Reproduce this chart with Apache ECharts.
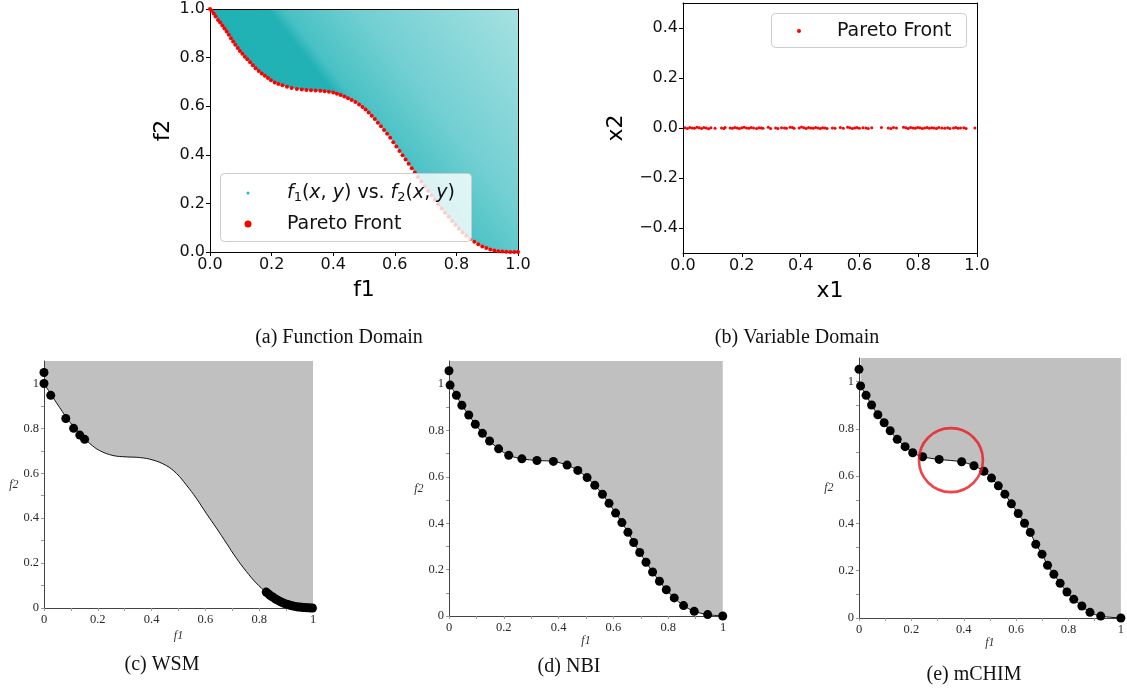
<!DOCTYPE html>
<html><head><meta charset="utf-8">
<script src="https://cdn.jsdelivr.net/npm/echarts@6/dist/echarts.min.js"></script>
<style>html,body{margin:0;padding:0;background:#fff}#c{width:1127px;height:694px}</style>
</head><body><div id="c"></div>
<script>
// ---------- data ----------
const unitTicks = [0, 0.2, 0.4, 0.6, 0.8, 1.0];
const x2Ticks = [-0.4, -0.2, 0, 0.2, 0.4];
const bottomLabelTicks = [0, 0.2, 0.4, 0.6, 0.8, 1];
const bottomMinorTicks = [0, 0.1, 0.2, 0.3, 0.4, 0.5, 0.6, 0.7, 0.8, 0.9, 1.0];

const cloudName = 'f1(x,y) vs. f2(x,y)';
const frontName = 'Pareto Front';

// (a) Pareto front in function domain
const paretoA = [
 [0.000,1.000],[0.005,0.993],[0.012,0.981],[0.018,0.969],[0.026,0.955],[0.033,0.944],[0.040,0.932],
 [0.047,0.920],[0.054,0.907],[0.061,0.894],[0.068,0.880],[0.075,0.866],[0.082,0.853],[0.090,0.839],
 [0.097,0.827],[0.105,0.816],[0.113,0.804],[0.121,0.793],[0.130,0.781],[0.139,0.769],[0.148,0.756],
 [0.158,0.745],[0.168,0.735],[0.178,0.725],[0.188,0.716],[0.198,0.707],[0.210,0.698],[0.222,0.691],
 [0.235,0.686],[0.250,0.680],[0.265,0.675],[0.282,0.671],[0.298,0.669],[0.313,0.667],[0.328,0.666],
 [0.343,0.665],[0.358,0.664],[0.372,0.662],[0.386,0.659],[0.400,0.656],[0.412,0.651],[0.424,0.646],
 [0.436,0.640],[0.448,0.633],[0.460,0.626],[0.472,0.617],[0.484,0.607],[0.495,0.597],[0.505,0.586],
 [0.515,0.574],[0.525,0.561],[0.535,0.547],[0.545,0.532],[0.555,0.517],[0.565,0.502],[0.575,0.487],
 [0.585,0.470],[0.595,0.452],[0.605,0.434],[0.615,0.416],[0.625,0.398],[0.635,0.381],[0.645,0.363],
 [0.655,0.345],[0.665,0.327],[0.675,0.309],[0.686,0.290],[0.697,0.271],[0.708,0.252],[0.719,0.234],
 [0.730,0.215],[0.741,0.197],[0.752,0.179],[0.763,0.162],[0.775,0.145],[0.786,0.128],[0.797,0.112],
 [0.808,0.096],[0.820,0.081],[0.832,0.067],[0.845,0.054],[0.858,0.042],[0.871,0.032],[0.884,0.023],
 [0.897,0.016],[0.910,0.010],[0.923,0.006],[0.936,0.003],[0.949,0.002],[0.962,0.001],[0.975,0.000],
 [0.988,0.000],[1.000,0.000]
];

// (b) Pareto set in variable domain
const paretoB = [
 [0.007,0.001],[0.015,-0.002],[0.023,0.002],[0.031,0.000],[0.039,-0.001],[0.047,0.003],[0.055,0.001],
 [0.063,-0.002],[0.071,0.002],[0.079,0.000],[0.087,-0.003],[0.095,0.001],[0.109,-0.001],
 [0.131,0.000],[0.139,-0.002],[0.143,0.002],
 [0.160,0.000],[0.168,-0.001],[0.176,0.002],[0.184,0.000],[0.192,-0.002],[0.200,0.001],[0.208,0.003],
 [0.216,0.000],[0.224,-0.001],[0.232,0.002],[0.240,0.000],[0.250,-0.002],[0.258,0.001],[0.266,0.000],
 [0.272,-0.001],[0.290,0.003],[0.298,-0.002],
 [0.315,0.000],[0.323,-0.002],[0.335,0.001],[0.345,0.000],[0.352,-0.001],[0.364,0.003],[0.372,0.002],
 [0.378,-0.001],[0.395,0.000],[0.403,0.004],[0.411,0.001],[0.419,-0.002],[0.427,0.002],[0.435,0.000],
 [0.443,-0.001],[0.451,0.002],[0.459,0.000],[0.467,-0.002],[0.475,0.001],[0.483,0.000],[0.490,-0.002],
 [0.508,0.000],[0.517,-0.001],[0.535,0.002],[0.545,-0.001],
 [0.560,0.003],[0.568,0.001],[0.576,-0.002],[0.584,0.000],[0.592,0.002],[0.600,-0.001],[0.612,0.001],
 [0.622,0.000],[0.630,-0.002],[0.642,0.001],[0.675,0.002],
 [0.698,0.000],[0.707,-0.002],[0.716,0.002],[0.726,0.000],
 [0.750,0.003],[0.758,0.001],[0.766,-0.002],[0.774,0.002],[0.782,0.000],[0.790,-0.001],[0.798,0.002],
 [0.806,0.001],[0.814,-0.002],[0.822,0.000],[0.830,0.002],[0.838,-0.001],[0.846,0.001],[0.854,0.000],
 [0.862,-0.002],[0.870,0.002],[0.880,0.000],[0.890,-0.001],[0.900,0.001],[0.908,-0.002],
 [0.920,0.000],[0.928,0.002],[0.936,-0.001],[0.944,0.000],[0.955,0.001],[0.963,-0.002],[0.993,0.000]
];

// (c) WSM
const wsmCurve = [
 [0,1.0],[0.025,0.953],[0.058,0.893],[0.095,0.830],[0.133,0.778],[0.170,0.733],[0.207,0.701],
 [0.257,0.679],[0.306,0.673],[0.356,0.670],[0.405,0.659],[0.455,0.634],[0.492,0.600],[0.529,0.548],
 [0.566,0.489],[0.603,0.422],[0.641,0.356],[0.678,0.289],[0.715,0.222],[0.752,0.163],[0.789,0.111],
 [0.827,0.070],[0.864,0.040],[0.901,0.019],[0.938,0.007],[0.975,0.0015],[1.0,0]
];
const wsmPoints = [
 [0,1.049],[0,1.0],[0.025,0.947],[0.081,0.844],[0.110,0.800],[0.133,0.770],[0.151,0.751],
 [0.826,0.071],[0.833,0.064],[0.840,0.057],[0.847,0.051],[0.855,0.045],[0.862,0.039],[0.870,0.034],
 [0.878,0.029],[0.886,0.024],[0.894,0.020],[0.902,0.017],[0.910,0.014],[0.918,0.011],[0.926,0.009],
 [0.934,0.007],[0.942,0.005],[0.950,0.004],[0.958,0.003],[0.966,0.002],[0.974,0.0015],[0.982,0.001],
 [0.990,0.0005],[0.998,0.0]
];

// (d) NBI
const nbiPoints = [
 [0,1.058],[0.004,0.996],[0.027,0.952],[0.047,0.909],[0.072,0.867],[0.096,0.827],[0.122,0.788],
 [0.148,0.755],[0.181,0.721],[0.218,0.693],[0.266,0.678],[0.321,0.671],[0.381,0.667],[0.431,0.651],
 [0.470,0.628],[0.504,0.597],[0.532,0.564],[0.560,0.525],[0.584,0.486],[0.608,0.444],[0.631,0.403],
 [0.653,0.361],[0.674,0.317],[0.696,0.274],[0.719,0.232],[0.743,0.190],[0.768,0.150],[0.793,0.113],
 [0.822,0.078],[0.856,0.045],[0.895,0.020],[0.944,0.006],[0.999,0.0]
];

// (e) mCHIM
const mchimPoints = [
 [0,1.052],[0.006,0.982],[0.027,0.942],[0.048,0.901],[0.072,0.860],[0.096,0.826],[0.119,0.792],
 [0.146,0.756],[0.176,0.725],[0.205,0.699],[0.243,0.682],[0.306,0.671],[0.392,0.661],[0.439,0.644],
 [0.477,0.621],[0.506,0.592],[0.532,0.559],[0.557,0.524],[0.582,0.483],[0.608,0.442],[0.632,0.401],
 [0.654,0.362],[0.675,0.312],[0.699,0.270],[0.720,0.223],[0.744,0.185],[0.768,0.147],[0.794,0.110],
 [0.820,0.079],[0.851,0.051],[0.882,0.024],[0.923,0.008],[1.0,0.0]
];
const highlight = [[0.351, 0.668]];

const captions = ['(a) Function Domain', '(b) Variable Domain', '(c) WSM', '(d) NBI', '(e) mCHIM'];

// ---------- styling / layout ----------
const SANS = 'DejaVu Sans';
const SERIF = 'Liberation Serif';
const chart = echarts.init(document.getElementById('c'), null, {renderer: 'canvas'});

const grids = [
  {left: 210, top: 9, width: 308, height: 243},
  {left: 683, top: 3, width: 294, height: 250},
  {left: 44, top: 361, width: 269, height: 247},
  {left: 449, top: 361, width: 274, height: 255},
  {left: 859, top: 358, width: 264, height: 260}
];

function fmt1(v) { const s = Math.abs(v).toFixed(1); return (v < -1e-9 ? '\u2212' : '') + s; }

function mplAxis(gi, pos, min, max, name, nameGap, labelTicks) {
  return {
    type: 'value', gridIndex: gi, position: pos, min: min, max: max, z: 2,
    name: name, nameLocation: 'middle', nameGap: nameGap,
    nameRotate: (pos === 'left') ? 90 : 0,
    nameTextStyle: {fontFamily: SANS, fontSize: 22, color: '#000'},
    axisLine: {show: true, onZero: false, lineStyle: {color: '#000', width: 1}},
    axisTick: {show: true, inside: false, length: 4, lineStyle: {color: '#000', width: 1}, customValues: labelTicks},
    axisLabel: {show: true, margin: 5, fontFamily: SANS, fontSize: 16, color: '#111', formatter: fmt1,
                customValues: labelTicks, showMinLabel: true, showMaxLabel: true},
    splitLine: {show: false}
  };
}
function boxAxis(gi, pos, min, max) {
  return {type: 'value', gridIndex: gi, position: pos, min: min, max: max, z: 2,
    axisLine: {show: true, onZero: false, lineStyle: {color: '#000', width: 1}},
    axisTick: {show: false}, axisLabel: {show: false}, splitLine: {show: false}};
}
function paperAxis(gi, pos, min, max, nameGap) {
  return {
    type: 'value', gridIndex: gi, position: pos, min: min, max: max, z: 2,
    name: pos === 'left' ? 'f2' : 'f1', nameLocation: 'middle', nameGap: nameGap, nameRotate: 0,
    nameTextStyle: {fontFamily: SERIF, fontStyle: 'italic', fontSize: 12, color: '#333'},
    axisLine: {show: true, onZero: false, lineStyle: {color: '#444', width: 1}},
    axisTick: {show: true, inside: false, length: 3, lineStyle: {color: '#999', width: 1}, customValues: bottomMinorTicks},
    axisLabel: {show: true, margin: 5, fontFamily: SERIF, fontSize: 12.5, color: '#2a2a2a',
                customValues: bottomLabelTicks, showMinLabel: true, showMaxLabel: true},
    splitLine: {show: false}
  };
}

const xAxis = [
  mplAxis(0, 'bottom', 0, 1, 'f1', 27, unitTicks),
  boxAxis(0, 'top', 0, 1),
  mplAxis(1, 'bottom', 0, 1, 'x1', 27, unitTicks),
  boxAxis(1, 'top', 0, 1),
  paperAxis(2, 'bottom', 0, 1, 22),
  paperAxis(3, 'bottom', 0, 1, 18),
  paperAxis(4, 'bottom', 0, 1, 18)
];
const yAxis = [
  mplAxis(0, 'left', 0, 1, 'f2', 36, unitTicks),
  boxAxis(0, 'right', 0, 1),
  mplAxis(1, 'left', -0.5, 0.5, 'x2', 56, x2Ticks),
  boxAxis(1, 'right', -0.5, 0.5),
  paperAxis(2, 'left', 0, 1.1, 25),
  paperAxis(3, 'left', 0, 1.1, 25),
  paperAxis(4, 'left', 0, 1.1, 25)
];

const cloudGrad = new echarts.graphic.LinearGradient(0, 1, 1, 0, [
  {offset: 0, color: '#1aafb3'}, {offset: 0.5, color: '#22b2b6'},
  {offset: 0.53, color: '#48c1c4'}, {offset: 0.68, color: '#72cfd2'}, {offset: 1, color: '#a6e1e2'}
]);

function frontArea(xi, data, fill, lineColor, lineWidth, smooth) {
  return {type: 'line', xAxisIndex: xi, yAxisIndex: xi, data: data, z: 1, silent: true,
    showSymbol: false, symbol: 'none', smooth: smooth,
    lineStyle: {color: lineColor, width: lineWidth, opacity: lineWidth > 0 ? 1 : 0},
    areaStyle: {origin: 'end', color: fill, opacity: 1}, animation: false};
}
function dots(name, xi, data, size, color) {
  return {type: 'scatter', name: name, xAxisIndex: xi, yAxisIndex: xi, data: data, z: 3,
    symbol: 'circle', symbolSize: size, itemStyle: {color: color, opacity: 1}, silent: true, animation: false};
}

const series = [
  Object.assign(frontArea(0, paretoA, cloudGrad, '#14abaf', 0, false), {name: cloudName, itemStyle: {color: '#17bec0'}}),
  dots(frontName, 0, paretoA, 4, '#ff0000'),
  dots(frontName, 2, paretoB, 3, '#ff0000'),
  frontArea(4, wsmCurve, '#c0c0c0', '#111', 1, 0.4),
  dots('WSM', 4, wsmPoints, 9, '#000'),
  frontArea(5, nbiPoints.slice(1), '#c0c0c0', '#111', 1, 0.3),
  dots('NBI', 5, nbiPoints, 9, '#000'),
  frontArea(6, mchimPoints.slice(1), '#c0c0c0', '#111', 1, 0.3),
  dots('mCHIM', 6, mchimPoints, 9, '#000'),
  {type: 'scatter', xAxisIndex: 6, yAxisIndex: 6, data: highlight, z: 4, symbol: 'circle', symbolSize: 64,
   silent: true, animation: false,
   itemStyle: {color: 'rgba(0,0,0,0)', borderColor: '#e8161b', borderWidth: 2.6}}
];

const legText = {fontFamily: SANS, fontSize: 19, color: '#111', lineHeight: 22};
const legendRich = {
  sp1: {width: 32.5, lineHeight: 22},
  sp2: {width: 30.5, lineHeight: 22},
  sp3: {width: 31, lineHeight: 22},
  n: {fontFamily: SANS, fontSize: 19, color: '#111', lineHeight: 22, verticalAlign: 'middle'},
  i: {fontFamily: SANS, fontStyle: 'italic', fontSize: 19, color: '#111', lineHeight: 22, verticalAlign: 'middle'},
  s: {fontFamily: SANS, fontSize: 13, color: '#111', lineHeight: 10, verticalAlign: 'bottom'}
};
const legends = [
  {data: [{name: cloudName, icon: 'circle', itemStyle: {color: '#17bec0', borderWidth: 0}}],
   left: 246.5, top: 182, itemWidth: 3, itemHeight: 3, padding: 0, selectedMode: false, z: 5,
   textStyle: Object.assign({rich: legendRich}, legText),
   formatter: () => '{sp1|}{i|f}{s|1}{n|(}{i|x}{n|, }{i|y}{n|) vs. }{i|f}{s|2}{n|(}{i|x}{n|, }{i|y}{n|)}'},
  {data: [{name: frontName, icon: 'circle', itemStyle: {color: '#ff0000', borderWidth: 0}}],
   left: 244.5, top: 213, itemWidth: 7, itemHeight: 7, padding: 0, selectedMode: false, z: 5,
   textStyle: Object.assign({rich: legendRich}, legText),
   formatter: (n) => '{sp2|}{n|' + n + '}'},
  {data: [{name: frontName, icon: 'circle', itemStyle: {color: '#ff0000', borderWidth: 0}}],
   left: 797, top: 20, itemWidth: 4, itemHeight: 4, padding: 0, selectedMode: false, z: 5,
   textStyle: Object.assign({rich: legendRich}, legText),
   formatter: (n) => '{sp3|}{n|' + n + '}'}
];

const capPos = [[339, 338], [797, 338], [162, 665], [569, 667], [974, 675]];
const graphic = [
  {type: 'rect', z: 4, shape: {x: 220.5, y: 173.5, width: 251, height: 68, r: 4},
   style: {fill: 'rgba(255,255,255,0.8)', stroke: '#cccccc', lineWidth: 1}},
  {type: 'rect', z: 4, shape: {x: 771.5, y: 13.5, width: 195, height: 34, r: 4},
   style: {fill: 'rgba(255,255,255,0.8)', stroke: '#cccccc', lineWidth: 1}}
].concat(captions.map((t, k) => ({
  type: 'text', x: capPos[k][0], y: capPos[k][1], z: 5,
  style: {text: t, fontFamily: SERIF, fontSize: 20, fill: '#111', align: 'center', verticalAlign: 'middle'}
})));

chart.setOption({
  animation: false,
  backgroundColor: '#fff',
  grid: grids,
  xAxis: xAxis,
  yAxis: yAxis,
  legend: legends,
  series: series,
  graphic: graphic
});
</script></body></html>
